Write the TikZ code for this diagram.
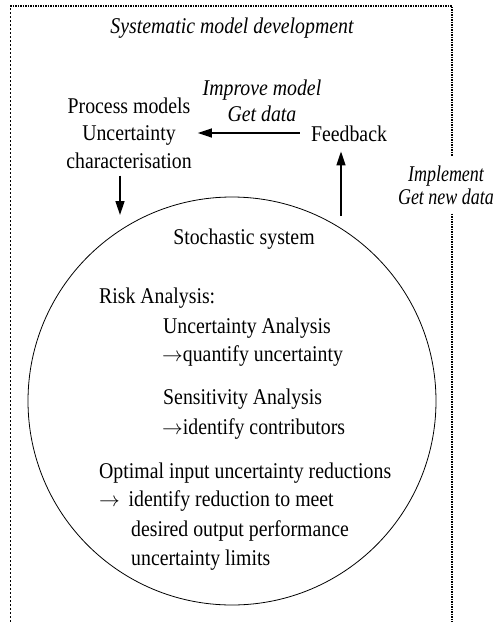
\documentclass[tikz,border=0pt]{standalone}
\usepackage{fontspec}
\setmainfont{Liberation Serif}[FakeStretch=0.88]
\newfontfamily\narrowserif{Liberation Serif}[FakeStretch=0.8]
\usetikzlibrary{arrows.meta}
\begin{document}
\begin{tikzpicture}[x=1pt,y=-1pt,
  every node/.style={inner sep=0pt, font=\fontsize{22.5}{27.5}\selectfont},
  lbl/.style={font=\fontsize{22.5}{26}\selectfont\itshape, align=center},
  item/.style={anchor=base west},
  arr/.style={line width=1.5pt, -{Triangle[length=14pt,width=9pt]}},
  frameline/.style={line width=2pt, dash pattern=on 1.5pt off 1pt},
  frameleft/.style={line width=0.7pt, dash pattern=on 2.5pt off 1.5pt}]
\useasboundingbox (0,0) rectangle (496,622);

% frame corners
\coordinate (tl) at (10,6);
\coordinate (tr) at (452,6);
\coordinate (bl) at (10,622);
\coordinate (br) at (452,622);

% labels
\node[lbl, anchor=base] (title) at (232,33) {Systematic model development};
\node[lbl] (improve) at (262,101) {Improve model\\Get data};
\node[lbl, font=\fontsize{22.5}{23}\selectfont\narrowserif\itshape] (impl) at (446,185) {Implement\\Get new data};

% process blocks
\node[align=center] (pm) at (129,133) {Process models\\Uncertainty\\characterisation};
\node[anchor=base] (fb) at (349,141) {Feedback};

% stochastic system
\node[circle, draw, line width=0.8pt, minimum size=408pt] (sys) at (232,401) {};
\node[anchor=base] (stoch) at (244,244) {Stochastic system};
\node[item] (risk) at (99,303) {Risk Analysis:};
\node[item] (ua) at (163,333) {Uncertainty Analysis};
\node[item] (qu) at (162,361) {$\rightarrow$quantify uncertainty};
\node[item] (sa) at (163,404) {Sensitivity Analysis};
\node[item] (ic) at (162,434) {$\rightarrow$identify contributors};
\node[item] (opt) at (99,478) {Optimal input uncertainty reductions};
\node[item] (irm) at (99,506) {$\rightarrow$\ \,identify reduction to meet};
\node[item] (dop) at (131,536) {desired output performance};
\node[item] (ul) at (131,565) {uncertainty limits};

% frame
\draw[frameleft] (bl) -- (tl);
\draw[frameline] (tl) -- (tr) -- ([yshift=9pt]tr |- impl.north);
\draw[frameline] ([yshift=-9pt]tr |- impl.south) -- (br);

% arrow end points
\coordinate (downtip) at (120,215);
\coordinate (upstart) at (341,216);

% connectors
\draw[arr, shorten <=11pt, shorten >=6pt] (fb.west |- pm.east) -- (pm.east);
\draw[arr] (downtip |- pm.south) ++(0,7) -- (downtip);
\draw[arr] (upstart) -- ([yshift=-10pt]upstart |- fb.south);
\end{tikzpicture}
\end{document}
